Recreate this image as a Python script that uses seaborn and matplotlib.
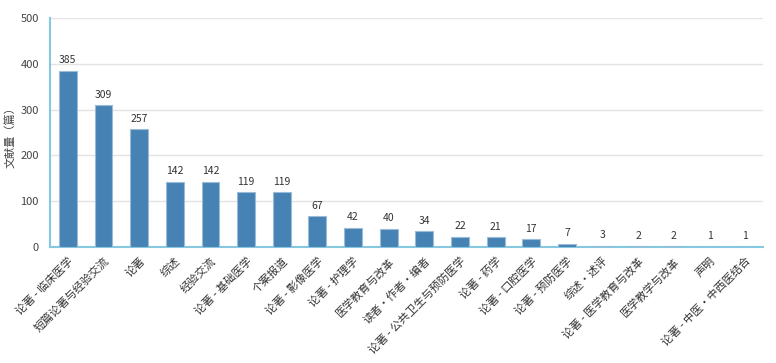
import numpy as np
import pandas as pd
import matplotlib
matplotlib.use("Agg")
import matplotlib.pyplot as plt
import seaborn as sns

# Data
categories = ["论著 - 临床医学", "短篇论著与经验交流", "论著", "综述", "经验交流",
              "论著 - 基础医学", "个案报道", "论著 - 影像医学", "论著 - 护理学", "医学教育与改革",
              "读者·作者·编者", "论著 - 公共卫生与预防医学", "论著 - 药学", "论著 - 口腔医学",
              "论著 - 预防医学", "综述·述评", "论著 - 医学教育与改革", "医学教学与改革",
              "声明", "论著 - 中医·中西医结合"]
counts = [385, 309, 257, 142, 142, 119, 119, 67, 42, 40, 34, 22, 21, 17, 7, 3, 2, 2, 1, 1]
y_ticks = [0, 100, 200, 300, 400, 500]

df = pd.DataFrame({"category": categories, "count": counts})

sns.set_style("white")
plt.rcParams['font.family'] = ['Noto Sans CJK SC', 'DejaVu Sans']

fig = plt.figure(figsize=(7.76, 3.63), dpi=100)
ax = fig.add_axes([50 / 776, 1 - 247 / 363, 713 / 776, 229 / 363])

sns.barplot(data=df, x="category", y="count", color="#4682b4", width=0.5,
            edgecolor="#9bbcd8", linewidth=0.8, saturation=1, ax=ax, zorder=3)

# value labels
for i, v in enumerate(counts):
    ax.text(i, v + 12, str(v), ha="center", va="bottom", fontsize=7.5, color="#333333")

ax.set_xlim(-0.5, len(categories) - 0.5)
ax.set_ylim(0, 500)
ax.set_yticks(y_ticks)
ax.set_yticklabels([str(t) for t in y_ticks], fontsize=8, color="#444444")
ax.yaxis.grid(True, color="#e3e3e3", linewidth=1, zorder=0)

ax.set_xticks(range(len(categories)))
ax.set_xticklabels(categories, rotation=45, ha="right", rotation_mode="anchor",
                   fontsize=8, color="#333333")
ax.tick_params(axis="x", which="major", length=0, pad=6)
ax.set_xticks(np.arange(-0.5, len(categories), 1), minor=True)
ax.tick_params(axis="x", which="minor", length=5, color="#b9dbe8", width=1)
ax.tick_params(axis="y", length=0, pad=8)

ax.set_xlabel("")
ax.set_ylabel("")
fig.text(10 / 776, 1 - 135 / 363, "文献量（篇）", rotation=90, ha="center", va="center",
         fontsize=8, color="#444444")

for side in ["top", "right"]:
    ax.spines[side].set_visible(False)
ax.spines["left"].set_color("#86c8e0")
ax.spines["left"].set_linewidth(1.5)
ax.spines["bottom"].set_color("#86c8e0")
ax.spines["bottom"].set_linewidth(1.5)

fig.savefig("out.png", dpi=100)
